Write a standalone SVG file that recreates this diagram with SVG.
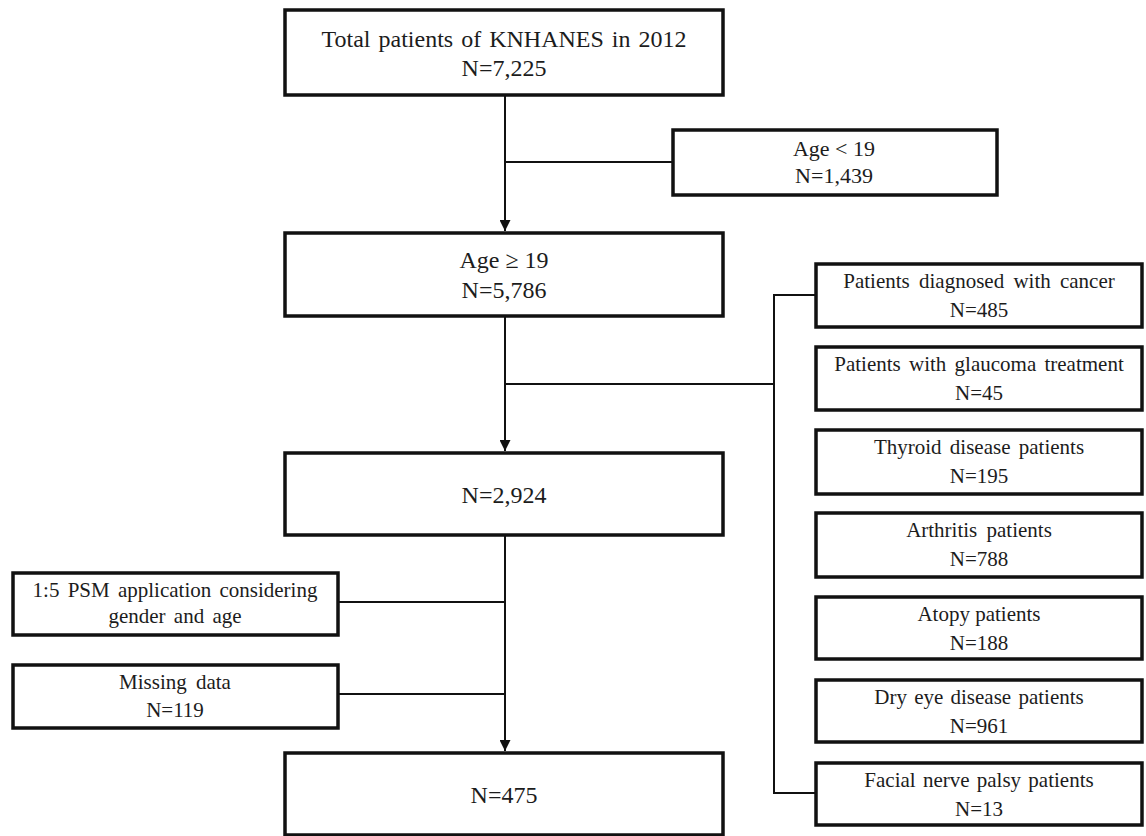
<svg xmlns="http://www.w3.org/2000/svg" width="1146" height="836" viewBox="0 0 1146 836">
<defs>
<style>
.box{fill:#fff;stroke:#111;stroke-width:3.5}
.ln{fill:none;stroke:#111;stroke-width:2}
text{font-family:"Liberation Serif","Times New Roman",serif;fill:#1c1c1c;text-anchor:middle}
.m{font-size:24px}
.s{font-size:21px}
.a{font-size:22px}
</style>
<marker id="arr" viewBox="0 0 10 10" refX="10" refY="5" markerWidth="5.5" markerHeight="5.5" markerUnits="strokeWidth" orient="auto">
<path d="M0,0 L10,5 L0,10 z" fill="#111"/>
</marker>
</defs>
<rect width="1146" height="836" fill="#fff"/>
<g id="connectors">
<line class="ln" x1="505" y1="95" x2="505" y2="231" marker-end="url(#arr)"/>
<line class="ln" x1="505" y1="162" x2="673" y2="162"/>
<line class="ln" x1="505" y1="316" x2="505" y2="451" marker-end="url(#arr)"/>
<line class="ln" x1="505" y1="384" x2="774" y2="384"/>
<polyline class="ln" points="816,295 774,295 774,793 816,793"/>
<line class="ln" x1="505" y1="535" x2="505" y2="751" marker-end="url(#arr)"/>
<line class="ln" x1="338" y1="602" x2="505" y2="602"/>
<line class="ln" x1="338" y1="694" x2="505" y2="694"/>
</g>
<g id="n-total">
<rect class="box" x="285" y="10" width="438" height="85"/>
<text class="m" x="504" y="47" word-spacing="2">Total patients of KNHANES in 2012</text>
<text class="m" x="504" y="76">N=7,225</text>
</g>
<g id="n-under19">
<rect class="box" x="673" y="130" width="324" height="65"/>
<text class="a" x="834" y="156">Age &lt; 19</text>
<text class="a" x="834" y="183">N=1,439</text>
</g>
<g id="n-age19">
<rect class="box" x="285" y="233" width="438" height="83"/>
<text class="m" x="504" y="268">Age ≥ 19</text>
<text class="m" x="504" y="298">N=5,786</text>
</g>
<g id="n-2924">
<rect class="box" x="285" y="453" width="438" height="82"/>
<text class="m" x="504" y="503">N=2,924</text>
</g>
<g id="n-psm">
<rect class="box" x="13" y="573" width="325" height="62"/>
<text class="s" x="175" y="597" word-spacing="3">1:5 PSM application  considering</text>
<text class="s" x="175" y="623" word-spacing="3">gender and age</text>
</g>
<g id="n-missing">
<rect class="box" x="13" y="665" width="325" height="63"/>
<text class="s" x="175" y="689" word-spacing="4">Missing data</text>
<text class="s" x="175" y="717">N=119</text>
</g>
<g id="n-475">
<rect class="box" x="285" y="753" width="438" height="82"/>
<text class="m" x="504" y="803">N=475</text>
</g>
<g id="n-cancer">
<rect class="box" x="816" y="264" width="326" height="63"/>
<text class="s" x="979" y="288" word-spacing="4">Patients diagnosed with cancer</text>
<text class="s" x="979" y="317">N=485</text>
</g>
<g id="n-glaucoma">
<rect class="box" x="816" y="347" width="326" height="63"/>
<text class="s" x="979" y="371" word-spacing="3">Patients with glaucoma treatment</text>
<text class="s" x="979" y="400">N=45</text>
</g>
<g id="n-thyroid">
<rect class="box" x="816" y="430" width="326" height="64"/>
<text class="s" x="979" y="454" word-spacing="3">Thyroid disease patients</text>
<text class="s" x="979" y="483">N=195</text>
</g>
<g id="n-arthritis">
<rect class="box" x="816" y="513" width="326" height="64"/>
<text class="s" x="979" y="537" word-spacing="4">Arthritis patients</text>
<text class="s" x="979" y="566">N=788</text>
</g>
<g id="n-atopy">
<rect class="box" x="816" y="597" width="326" height="62"/>
<text class="s" x="979" y="621">Atopy patients</text>
<text class="s" x="979" y="650">N=188</text>
</g>
<g id="n-dryeye">
<rect class="box" x="816" y="680" width="326" height="62"/>
<text class="s" x="979" y="704" word-spacing="2">Dry eye disease patients</text>
<text class="s" x="979" y="733">N=961</text>
</g>
<g id="n-facial">
<rect class="box" x="816" y="763" width="326" height="62"/>
<text class="s" x="979" y="787" word-spacing="2">Facial nerve palsy patients</text>
<text class="s" x="979" y="816">N=13</text>
</g>
</svg>
